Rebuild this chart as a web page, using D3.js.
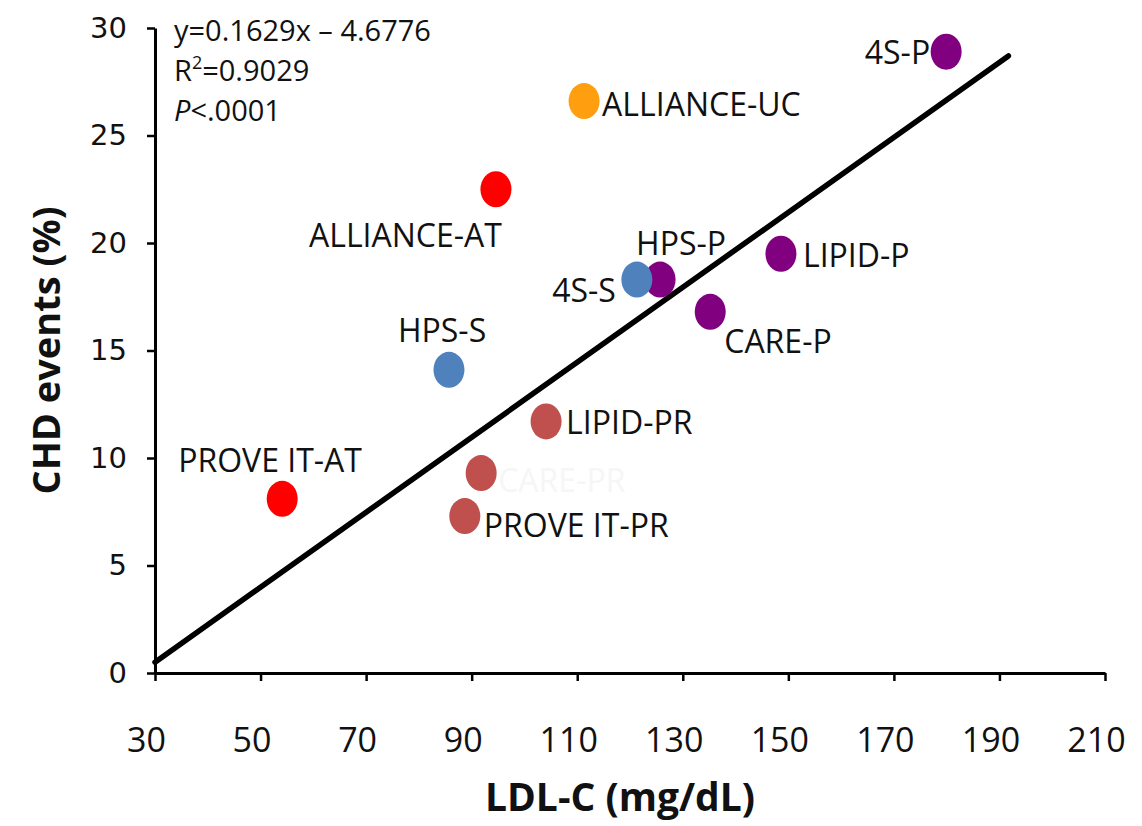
<!DOCTYPE html>
<html>
<head>
<meta charset="utf-8">
<script src="https://cdn.jsdelivr.net/npm/d3@7"></script>
<style>
  body { margin: 0; background: #fff; }
  text { font-family: 'Open Sans', 'Noto Sans', sans-serif; }
</style>
</head>
<body>
<div id="chart"></div>
<script>
// trial data
const trials = ['4S-P', 'ALLIANCE-UC', 'ALLIANCE-AT', 'HPS-P', '4S-S', 'LIPID-P', 'CARE-P', 'HPS-S', 'LIPID-PR', 'CARE-PR', 'PROVE IT-PR', 'PROVE IT-AT']
const ldl = [179.9, 111.3, 94.6, 125.7, 121.3, 148.6, 135.2, 85.7, 104.1, 91.8, 88.7, 54.1]
const chd = [28.9, 26.6, 22.5, 18.3, 18.3, 19.5, 16.8, 14.1, 11.7, 9.3, 7.3, 8.1]
const groups = ['placebo', 'usual', 'ator', 'placebo', 'simva', 'placebo', 'placebo', 'simva', 'prava', 'prava', 'prava', 'ator']
const xTicks = [30, 50, 70, 90, 110, 130, 150, 170, 190, 210]
const yTicks = [0, 5, 10, 15, 20, 25, 30]
const fitLine = [[30, 0.5], [191.7, 28.7]]

const colors = {
  placebo: '#800080',
  usual: '#FF9E0F',
  ator: '#FF0000',
  simva: '#4F81BD',
  prava: '#C0504D'
}

// label placement relative to the marker (px)
const labelPos = {
  '4S-P': { dx: -16, dy: 0, anchor: 'end' },
  'ALLIANCE-UC': { dx: 18, dy: 2, anchor: 'start' },
  'ALLIANCE-AT': { dx: 6, dy: 45, anchor: 'end' },
  'HPS-P': { dx: -24, dy: -37, anchor: 'start' },
  '4S-S': { dx: -21, dy: 10, anchor: 'end' },
  'LIPID-P': { dx: 22, dy: 1, anchor: 'start' },
  'CARE-P': { dx: 14, dy: 29, anchor: 'start' },
  'HPS-S': { dx: -51, dy: -40, anchor: 'start' },
  'LIPID-PR': { dx: 20, dy: 0, anchor: 'start' },
  'CARE-PR': { dx: 17, dy: 6, anchor: 'start' },
  'PROVE IT-PR': { dx: 19, dy: 8, anchor: 'start' },
  'PROVE IT-AT': { dx: -104, dy: -39, anchor: 'start' }
}

const width = 1142
const height = 826
const margin = { left: 155, right: 37, top: 28, bottom: 153 }

const svg = d3.select('#chart').append('svg')
  .attr('width', width)
  .attr('height', height)

const x = d3.scaleLinear().domain([30, 210]).range([margin.left, width - margin.right])
const y = d3.scaleLinear().domain([0, 30]).range([height - margin.bottom, margin.top])

// axes
const xAxis = svg.append('g')
  .attr('transform', `translate(0,${y(0)})`)
  .call(d3.axisBottom(x).tickValues(xTicks).tickSize(8).tickSizeOuter(0))
xAxis.select('.domain').attr('stroke-width', 3)
xAxis.selectAll('.tick line').attr('stroke-width', 2.5)
xAxis.selectAll('.tick text')
  .attr('y', 79)
  .attr('dy', null)
  .attr('dx', -9)
  .attr('font-size', 34)
  .attr('fill', '#111')

const yAxis = svg.append('g')
  .attr('transform', `translate(${x(30)},0)`)
  .call(d3.axisLeft(y).tickValues(yTicks).tickSize(8).tickPadding(20).tickSizeOuter(0))
yAxis.select('.domain').attr('stroke-width', 3)
yAxis.selectAll('.tick line').attr('stroke-width', 2.5)
yAxis.selectAll('.tick text')
  .style('font-family', "'DejaVu Sans', sans-serif")
  .attr('font-size', 29)
  .attr('fill', '#111')

// regression line
svg.append('line')
  .attr('x1', x(fitLine[0][0])).attr('y1', y(fitLine[0][1]))
  .attr('x2', x(fitLine[1][0])).attr('y2', y(fitLine[1][1]))
  .attr('stroke', '#000')
  .attr('stroke-width', 5.5)
  .attr('stroke-linecap', 'round')

const points = trials.map((t, i) => ({ name: t, ldl: ldl[i], chd: chd[i], group: groups[i] }))

svg.append('g').selectAll('ellipse')
  .data(points)
  .enter()
  .append('ellipse')
  .attr('cx', d => x(d.ldl))
  .attr('cy', d => y(d.chd))
  .attr('rx', 15.5)
  .attr('ry', 18)
  .attr('fill', d => colors[d.group])

svg.append('g').selectAll('text')
  .data(points)
  .enter()
  .append('text')
  .attr('x', d => x(d.ldl) + labelPos[d.name].dx)
  .attr('y', d => y(d.chd) + labelPos[d.name].dy)
  .attr('text-anchor', d => labelPos[d.name].anchor)
  .attr('dominant-baseline', 'central')
  .attr('font-size', 32)
  // CARE-PR label is white in the original, so it barely shows
  .attr('fill', d => d.name === 'CARE-PR' ? '#f6f6f6' : '#111')
  .text(d => d.name)

// equation block
const eq = svg.append('g')
  .style('font-family', "'DejaVu Sans', sans-serif")
  .attr('font-size', 29)
  .attr('fill', '#111')
eq.append('text').attr('x', 174).attr('y', 41).text('y=0.1629x \u2013 4.6776')
const r2 = eq.append('text').attr('x', 174).attr('y', 81)
r2.append('tspan').text('R')
r2.append('tspan').attr('font-size', 18).attr('dy', -12).text('2')
r2.append('tspan').attr('dy', 12).text('=0.9029')
const pv = eq.append('text').attr('x', 174).attr('y', 121)
pv.append('tspan').attr('font-style', 'italic').text('P')
pv.append('tspan').text('<.0001')

// axis titles
svg.append('text')
  .attr('x', 620)
  .attr('y', 811)
  .attr('text-anchor', 'middle')
  .attr('font-size', 39)
  .attr('font-weight', 'bold')
  .attr('fill', '#111')
  .text('LDL-C (mg/dL)')

svg.append('text')
  .attr('transform', `translate(60,${(y(0) + y(30)) / 2}) rotate(-90)`)
  .attr('text-anchor', 'middle')
  .attr('font-size', 38)
  .attr('font-weight', 'bold')
  .attr('fill', '#111')
  .text('CHD events (%)')
</script>
</body>
</html>
